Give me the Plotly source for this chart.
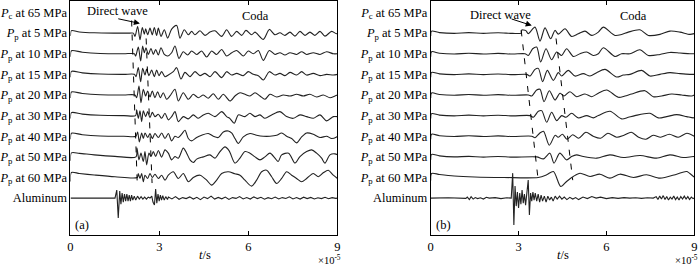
import plotly.graph_objects as go

# ---------------- labels / ticks ----------------
ROW_LABELS = [
    "<i>P</i><sub>c</sub> at 65 MPa",
    "<i>P</i><sub>p</sub> at 5 MPa",
    "<i>P</i><sub>p</sub> at 10 MPa",
    "<i>P</i><sub>p</sub> at 15 MPa",
    "<i>P</i><sub>p</sub> at 20 MPa",
    "<i>P</i><sub>p</sub> at 30 MPa",
    "<i>P</i><sub>p</sub> at 40 MPa",
    "<i>P</i><sub>p</sub> at 50 MPa",
    "<i>P</i><sub>p</sub> at 60 MPa",
    "Aluminum",
]
X_TICKS = [0, 3, 6, 9]

# ---------------- panel (a) traces: time (x1e-5 s), amplitude ----------------
A_P5_T = [0, 0.03, 0.3, 0.8, 1.5, 2.0, 2.118, 2.174, 2.264, 2.343, 2.421, 2.489, 2.534, 2.601, 2.680, 2.758,
          2.826, 2.904, 2.961, 3.051, 3.163, 3.275, 3.410, 3.579, 3.691, 3.837, 3.972, 4.084, 4.197, 4.365,
          4.534, 4.702, 4.871, 5.096, 5.264, 5.43, 5.601, 5.769, 5.915, 6.106, 6.219, 6.500, 6.702, 6.893,
          7.061, 7.230, 7.398, 7.567, 7.736, 7.904, 8.072, 8.241, 8.410, 8.578, 8.803, 8.972, 9.0]
A_P5_V = [-3, 2.5, 1.2, 0.3, 0, 0, 0, -3.3, 6.7, -6.7, 5.7, -1.0, 4.3, -1.7, 5.0, -1.7,
          5.7, -2.3, 5.0, -3.3, 3.3, -5.0, 4.0, 7.7, -5.0, 3.3, -1.7, 1.7, -1.7, 2.3,
          -2.3, 1.0, 2.3, -3.3, 3.3, -3.3, 1.7, -2.3, 2.7, -1.7, 1.0, -6.3, 3.7, -1.7,
          0.3, -2.3, 1.0, -3.0, 1.7, -2.3, 1.0, -2.3, 1.7, -3.0, 1.7, -0.7, 0]

A_P10_T = [0, 0.03, 0.4, 1.0, 1.8, 2.152, 2.197, 2.286, 2.365, 2.433, 2.489, 2.545, 2.624, 2.713, 2.792, 2.871,
           2.961, 3.051, 3.163, 3.275, 3.410, 3.522, 3.657, 3.803, 3.949, 4.084, 4.253, 4.421, 4.590, 4.758,
           4.927, 5.096, 5.264, 5.433, 5.601, 5.825, 5.994, 6.163, 6.331, 6.500, 6.702, 6.893, 7.061, 7.230,
           7.398, 7.623, 7.792, 7.960, 8.185, 8.410, 8.634, 8.859, 9.0]
A_P10_V = [-3, 3, 1.5, 0.3, 0, 0, -2.3, 6.7, -7.3, 7.7, 1.0, 6.0, -0.7, 5.3, -0.7, 4.3,
           -1.3, 6.0, -0.7, -2.3, 1.0, 7.7, -4.7, 2.0, -1.3, 2.7, -0.7, 2.7, -3.3, 2.7,
           -0.7, 4.3, -2.3, 1.0, 3.3, -2.3, 2.7, 0, 3.3, -6.7, 3.3, -0.7, 1.0, -1.3,
           1.0, -0.7, 2.0, -0.7, 1.0, -0.7, 2.0, 0, 0]

A_P15_T = [0, 0.03, 0.4, 1.0, 1.8, 2.152, 2.208, 2.286, 2.365, 2.433, 2.511, 2.567, 2.646, 2.736, 2.826, 2.904,
           2.983, 3.073, 3.185, 3.298, 3.466, 3.579, 3.725, 3.859, 4.028, 4.197, 4.365, 4.534, 4.702, 4.871,
           5.096, 5.264, 5.433, 5.601, 5.825, 5.994, 6.163, 6.331, 6.500, 6.702, 6.893, 7.061, 7.230, 7.398,
           7.623, 7.792, 7.960, 8.185, 8.410, 8.634, 8.859, 9.0]
A_P15_V = [-3, 3, 1.5, 0.3, 0, 0, -2.3, 6.7, -7.3, 6.0, -0.7, 5.3, -1.3, 4.3, -2.3, 4.3,
           -1.3, 2.7, -2.3, -0.7, 2.7, 6.7, -4.7, 2.0, -2.3, 2.7, -1.3, 1.0, -2.3, 2.7,
           -3.3, 2.7, -0.7, 1.0, -1.3, 2.7, 0, -1.3, -5.7, 2.7, -0.7, 1.0, -1.3, 2.0,
           -0.7, 2.7, -0.7, 1.0, -1.3, 0, -0.7, 0]

A_P20_T = [0, 0.03, 0.4, 1.0, 1.8, 2.174, 2.230, 2.309, 2.376, 2.455, 2.534, 2.601, 2.680, 2.758, 2.848, 2.938,
           3.028, 3.129, 3.241, 3.354, 3.522, 3.635, 3.803, 3.972, 4.140, 4.309, 4.477, 4.646, 4.815, 4.983,
           5.152, 5.376, 5.545, 5.713, 5.882, 6.050, 6.219, 6.388, 6.556, 6.724, 6.949, 7.174, 7.398, 7.623,
           7.848, 8.072, 8.297, 8.522, 8.747, 8.915, 9.0]
A_P20_V = [-3, 3, 1.5, 0.3, 0, 0, -2.7, 9.0, -7.7, 5.7, -1.0, 4.0, -2.0, 4.0, -2.7, 3.3,
           -2.7, 2.3, -4.3, -1.0, 5.7, -6.0, 2.3, -4.3, 0.7, -2.7, 0, -3.3, 1.3, -4.3,
           0.7, -6.0, -1.0, 2.3, 0.7, -1.0, 2.3, -1.0, -4.3, 0.7, -2.0, 0, -1.0, 0.7,
           -1.0, 0.7, -2.0, 0, -2.7, -1.0, 0]

A_P30_T = [0, 0.03, 0.4, 1.0, 1.8, 2.197, 2.230, 2.286, 2.343, 2.399, 2.455, 2.534, 2.601, 2.680, 2.758, 2.848,
           2.961, 3.073, 3.185, 3.298, 3.410, 3.522, 3.635, 3.803, 3.972, 4.140, 4.309, 4.477, 4.646, 4.871,
           5.096, 5.264, 5.376, 5.520, 5.657, 5.882, 6.050, 6.219, 6.388, 6.556, 6.781, 7.061, 7.286, 7.511,
           7.736, 7.960, 8.185, 8.410, 8.634, 8.859, 9.0]
A_P30_V = [-3, 3, 1.5, 0.3, 0, 0, 5.7, -2.7, 4.7, -6.0, 4.7, -1.0, 4.0, -2.0, 3.3, -1.0,
           1.3, -2.7, 2.3, -4.3, -1.0, 4.0, -6.0, -1.0, -3.3, 0.7, -2.7, 0.7, 2.3, -1.0,
           4.0, -1.0, -3.0, -7.7, 0.7, -1.0, 2.3, -1.0, 0.7, -2.7, 0.7, 4.0, -1.0, -2.7,
           0.7, -1.0, -2.7, 0.7, -5.3, -1.0, -1.0]

A_P40_T = [0, 0.03, 0.4, 1.0, 1.8, 2.208, 2.264, 2.320, 2.399, 2.455, 2.511, 2.601, 2.680, 2.758, 2.848, 2.961,
           3.073, 3.185, 3.298, 3.410, 3.522, 3.635, 3.747, 3.859, 3.972, 4.084, 4.253, 4.421, 4.646, 4.815,
           4.983, 5.152, 5.320, 5.440, 5.545, 5.657, 5.825, 6.050, 6.275, 6.500, 6.724, 6.949, 7.118, 7.286,
           7.455, 7.623, 7.792, 7.960, 8.185, 8.410, 8.634, 8.803, 8.972, 9.0]
A_P40_V = [-3, 3, 1.5, 0.3, 0, 0, 4.3, -5.7, 3.3, -2.3, 3.3, -1.3, 2.7, -2.3, 2.7, -1.3,
           3.3, -2.3, 2.7, -4.7, 0, -1.3, 2.0, 6.0, -2.3, -4.7, -1.3, 1.0, 2.7, 0,
           -1.3, 4.3, 5.3, 3.0, -2.3, -7.3, -0.7, 2.7, 1.0, 0, 0, 1.0, 3.3, 0,
           -2.3, -6.7, -0.7, 3.3, 2.0, -1.3, 0, -2.3, -0.7, 0]

A_P50_T = [0, 0.03, 0.3, 0.8, 1.5, 2.208, 2.241, 2.309, 2.376, 2.455, 2.511, 2.567, 2.646, 2.713, 2.792, 2.871,
           2.961, 3.073, 3.185, 3.298, 3.410, 3.522, 3.635, 3.803, 3.916, 4.028, 4.140, 4.253, 4.477, 4.702,
           4.871, 5.039, 5.208, 5.350, 5.545, 5.713, 5.882, 6.050, 6.219, 6.388, 6.556, 6.724, 6.893, 7.000,
           7.118, 7.354, 7.567, 7.736, 7.960, 8.129, 8.297, 8.466, 8.578, 8.747, 8.915, 9.0]
A_P50_V = [-4, 4, 3.5, 2, 0.5, 0, 8.7, -3.0, 3.7, -4.7, 5.3, -8.0, 3.7, 0.3, 5.3, 0.3,
           6.3, -0.3, 7.0, 3.7, -3.0, 0.3, -1.3, 8.7, 3.7, -3.0, -5.7, -2.3, 0, 2.0,
           -1.3, 5.3, 10.0, 6.0, -6.3, -1.3, 5.3, 3.7, 0, -3.0, 0, 3.7, -1.3, -4.7,
           2.0, 3.7, -6.3, 0.3, 5.3, 7.0, 3.7, -1.3, -6.3, 2.0, 3.0, 2.0]

A_P60_T = [0, 0.03, 0.3, 0.8, 1.5, 2.253, 2.286, 2.343, 2.399, 2.455, 2.511, 2.601, 2.680, 2.758, 2.848, 2.961,
           3.073, 3.185, 3.298, 3.466, 3.635, 3.803, 3.972, 4.140, 4.365, 4.590, 4.758, 4.927, 5.096, 5.320,
           5.545, 5.713, 5.882, 6.106, 6.275, 6.444, 6.612, 6.781, 6.949, 7.118, 7.286, 7.455, 7.623, 7.792,
           7.960, 8.185, 8.353, 8.522, 8.690, 8.859, 9.0]
A_P60_V = [-4, 5, 4, 2.5, 0.7, 0, 4.0, -1.0, 4.0, -4.3, 2.3, -1.0, 4.0, 0, 3.3, -1.0,
           2.3, -2.7, 2.3, 5.7, -1.0, 4.0, -4.3, 0, 2.3, -2.7, -7.7, -2.7, 4.0, 5.7,
           3.7, 2.3, -2.7, -8.7, -2.7, 5.7, 7.3, 0.7, -6.0, -1.0, 5.7, 2.3, -1.0, -4.3,
           -1.0, 4.0, 0.7, 4.7, 7.3, 2.3, -1.0]

A_AL_T = [0, 0.5, 1.0, 1.50, 1.56, 1.61, 1.66, 1.70, 1.74, 1.78, 1.82, 1.86, 1.90, 1.94, 1.98, 2.02, 2.06,
          2.10, 2.15, 2.20, 2.26, 2.32, 2.38, 2.44, 2.50, 2.56, 2.62, 2.68, 2.74, 2.78, 2.83, 2.87, 2.91,
          2.95, 2.99, 3.03, 3.07, 3.11, 3.16, 3.21, 3.27, 3.30, 3.42, 3.54, 3.66, 3.78, 3.90, 4.02, 4.14,
          4.26, 4.38, 4.50, 4.62, 4.74, 4.86, 4.98, 5.10, 5.22, 5.34, 5.46, 5.58, 5.70, 5.82, 5.94, 6.06,
          6.18, 6.30, 6.42, 6.54, 6.66, 6.78, 6.90, 7.02, 7.14, 7.26, 7.38, 7.50, 7.62, 7.74, 7.86, 7.98,
          8.10, 8.22, 8.34, 8.46, 8.58, 8.70, 8.82, 8.94, 9.0]
A_AL_V = [0, 0.2, -0.2, 0, 8, -20, 7, -6, 5, -4, 4, -3, 4, -3, 3, -3, 3,
          -2, 2, -2, 2, -1, 1.5, -1, 1, -1, 1, 0, 2, -4, -7, 9, -5,
          4, -3, 3, -2, 2.5, -2, 1.5, -1.5, 1.0, -0.8, 1.5, -1.2, 0.5, -0.5, 1.2, -1.0,
          0.8, -1.5, 1.0, -0.5, 2.0, -1.0, 0.7, -0.7, 1.0, -1.3, 0.5, -0.3, 1.5, -0.8, 0.6, -1.0,
          1.2, -0.5, 0.8, -1.1, 0.4, -0.6, 1.0, -0.9, 0.5, -0.4, 1.3, -0.8, 0.6, -1.0, 0.9, -0.5,
          0.7, -0.9, 0.3, -0.5, 0.8, -0.6, 0.5, -0.3, 0]

# ---------------- panel (b) traces ----------------
B_P5_T = [0, 0.03, 0.3, 0.8, 1.3, 1.8, 2.3, 2.8, 3.09, 3.10, 3.25, 3.33, 3.561, 3.732, 3.903, 4.096, 4.244,
          4.358, 4.586, 4.813, 5.041, 5.268, 5.496, 5.724, 5.894, 6.293, 6.520, 6.748, 7.146, 7.431, 7.829,
          8.170, 8.512, 8.853, 9.0]
B_P5_V = [-3, 2, 0.5, -0.3, 0.5, -0.3, 0.4, -0.3, 0, 3, 2.5, -0.5, 6.0, -8.0, 5.3, -5.7, 2.7,
          -1.0, 4.3, -3.3, -0.7, 2.0, -2.3, 1.0, 6.0, -2.3, -1.3, 1.0, 3.3, -2.3, -1.3,
          2.0, 1.0, -1.3, -0.5]

B_P10_T = [0, 0.03, 0.3, 0.8, 1.3, 1.8, 2.3, 2.8, 3.22, 3.334, 3.482, 3.618, 3.755, 3.937, 4.130, 4.301,
           4.472, 4.642, 4.870, 5.098, 5.325, 5.553, 5.724, 5.894, 6.293, 6.520, 6.805, 7.146, 7.431, 7.829,
           8.170, 8.512, 8.853, 9.0]
B_P10_V = [-3, 2, 0.5, -0.3, 0.5, -0.3, 0.4, -0.3, 0, -1.7, 5.0, 6.7, -8.3, 5.0, -6.0, 1.7,
           -1.7, 5.0, -2.7, 0, 1.7, -1.7, 0, 6.0, -2.7, 0, 0, 4.0, -1.7, -0.7,
           1.3, 0.7, 0, 0]

B_P15_T = [0, 0.03, 0.3, 0.8, 1.3, 1.8, 2.3, 2.8, 3.277, 3.391, 3.561, 3.675, 3.823, 3.982, 4.187, 4.358,
           4.472, 4.699, 4.927, 5.211, 5.439, 5.667, 5.951, 6.349, 6.577, 6.805, 7.203, 7.487, 7.829, 8.170,
           8.512, 8.853, 9.0]
B_P15_V = [-3, 2, 0.5, -0.3, 0.5, -0.3, 0.4, -0.3, 0, -1.7, 5.0, 6.0, -7.3, 4.0, -6.0, 1.7,
           -1.7, 4.0, -1.7, 0.7, -1.7, 1.7, 5.0, -2.7, -0.7, 0, 4.0, -1.7, 0, 1.7,
           0.7, 0, 0]

B_P20_T = [0, 0.03, 0.3, 0.8, 1.3, 1.8, 2.3, 2.8, 3.334, 3.448, 3.618, 3.732, 3.869, 4.051, 4.244, 4.415,
           4.551, 4.756, 4.984, 5.268, 5.496, 5.724, 6.008, 6.406, 6.634, 6.862, 7.317, 7.601, 7.886, 8.227,
           8.569, 8.910, 9.0]
B_P20_V = [-3, 2, 0.5, -0.3, 0.5, -0.3, 0.4, -0.3, 0, -1.0, 5.0, 5.7, -6.7, 4.3, -5.0, 1.7,
           -1.0, 3.3, -1.7, 1.0, -1.7, 1.7, 5.0, -2.3, -1.0, 1.0, 4.3, -1.7, -1.0, 1.0,
           0, -1.0, 0]

B_P30_T = [0, 0.03, 0.3, 0.8, 1.3, 1.8, 2.3, 2.8, 3.391, 3.504, 3.675, 3.789, 3.960, 4.130, 4.301, 4.472,
           4.620, 4.813, 5.041, 5.325, 5.553, 5.724, 6.122, 6.520, 6.748, 6.975, 7.487, 7.772, 8.056, 8.398,
           8.739, 8.967, 9.0]
B_P30_V = [-3, 2, 0.5, -0.3, 0.5, -0.3, 0.4, -0.3, 0, -1.7, 4.3, 5.0, -6.7, 3.3, -5.0, 0,
           -1.7, 2.3, -2.3, 0, -2.3, 0, 4.3, -3.3, -1.7, 0, 2.3, -2.3, -1.0, 1.0,
           -1.0, -2.3, -2.0]

B_P40_T = [0, 0.03, 0.3, 0.8, 1.3, 1.8, 2.3, 2.8, 3.45, 3.56, 3.72, 3.85, 4.05, 4.25, 4.35, 4.50, 4.65,
           4.85, 5.05, 5.30, 5.55, 5.80, 6.05, 6.35, 6.60, 6.85, 7.10, 7.35, 7.60, 7.85, 8.15, 8.45, 8.75, 9.0]
B_P40_V = [-3, 2, 0.5, -0.3, 0.5, -0.3, 0.4, -0.3, 0, -1.5, 3, 5, -9, 1, -1, 2, -3,
           1.5, -2, 4, 0, -2, 3, -1, 1, 4, -1, -3, 1, -1, 2, -1, 3, 0]

B_P50_T = [0, 0.03, 0.3, 0.8, 1.3, 1.8, 2.3, 2.8, 3.62, 3.85, 4.07, 4.21, 4.41, 4.64, 4.81, 4.98, 5.21,
           5.67, 6.12, 6.58, 7.15, 7.71, 8.17, 8.62, 8.97, 9.0]
B_P50_V = [-3, 2.5, 1.0, 0, 0.5, -0.3, 0.4, -0.3, 0, -2, 3.7, -6.3, 3.7, -3, 0.3, 2, 0.3,
           -1.3, 2, -0.7, 1.3, -1.3, 2, -0.7, 0.3, 0]

B_P60_T = [0, 0.03, 0.3, 0.8, 1.5, 2.5, 3.67, 3.96, 4.19, 4.44, 4.64, 4.87, 5.10, 5.44, 5.78, 6.12, 6.46,
           6.92, 7.37, 7.83, 8.40, 8.74, 8.97, 9.0]
B_P60_V = [-3, 4, 3, 1.5, 0.5, 0, 0, 2.7, 6, -9, -4, 1, 4.3, 1, 3.3, -0.7, 3.3,
           0, 2.7, -0.7, 3.3, 6, 1, 0.5]

B_AL_T = [0, 0.6, 1.2, 1.25, 1.32, 1.38, 1.45, 1.52, 1.60, 1.70, 1.80, 1.90, 2.00, 2.20, 2.40, 2.60, 2.75,
          2.80, 2.84, 2.88, 2.92, 2.96, 3.00, 3.04, 3.08, 3.12, 3.16, 3.20, 3.24, 3.28, 3.33, 3.37, 3.41,
          3.45, 3.49, 3.53, 3.57, 3.62, 3.67, 3.72, 3.77, 3.82, 3.88, 3.94, 4.00, 4.06, 4.12, 4.18, 4.25,
          4.32, 4.40, 4.48, 4.56, 4.65, 4.75, 4.85, 4.95, 5.05, 5.20, 5.35, 5.50, 5.65, 5.80, 6.00, 6.20,
          6.40, 6.60, 6.80, 7.00, 7.20, 7.40, 7.60, 7.70, 7.76, 7.82, 7.88, 7.94, 8.00, 8.06, 8.12, 8.18,
          8.24, 8.30, 8.36, 8.42, 8.48, 8.54, 8.60, 8.66, 8.72, 8.78, 8.84, 8.90, 8.96, 9.0]
B_AL_V = [0, 0.4, -0.3, 1, -1.5, 1.5, -1, 0.5, -0.5, 0.3, -1, 0.8, 0, 0.5, -0.5, 0.3, 0,
          25, -27, 12, -8, 6, -10, 5, -6, 8, -5, 4, -7, 6, 18, -17, 5,
          -3, 6, -2, 5, -3, 4, -4, 3, -3, 2, -4, 2, -2, 1, -3, 2,
          -1, 2, -1, 1, -1.5, 0.8, -1, 0.5, -1.5, 1, -0.5, 1.5, 0, 1, -0.5, 0.5,
          -0.3, 0.5, 0, 0.3, -0.3, 0.3, 0, 1.5, -1.5, 2, -1, 2.5, -1.5, 1.5, -2, 1,
          -1, 2, -1.5, 1, -2, 1.5, -1, 2, -1, 1.5, -1.5, 1, -0.5, 0]

# dashed guide lines: (time, row position) endpoints
A_DASH1 = ([2.06, 2.25], [-0.39, -8.27])
A_DASH2 = ([2.55, 2.75], [-1.26, -8.27])
B_DASH1 = ([3.09, 3.67], [-0.87, -8.13])
B_DASH2 = ([4.28, 4.85], [-1.26, -8.13])

GAIN = 1 / 20.67
FONT = "Liberation Serif, Times New Roman, serif"
FS = 12.5
INK = "#222222"

panel_a = [(1, A_P5_T, A_P5_V), (2, A_P10_T, A_P10_V), (3, A_P15_T, A_P15_V), (4, A_P20_T, A_P20_V),
           (5, A_P30_T, A_P30_V), (6, A_P40_T, A_P40_V), (7, A_P50_T, A_P50_V), (8, A_P60_T, A_P60_V),
           (9, A_AL_T, A_AL_V)]
panel_b = [(1, B_P5_T, B_P5_V), (2, B_P10_T, B_P10_V), (3, B_P15_T, B_P15_V), (4, B_P20_T, B_P20_V),
           (5, B_P30_T, B_P30_V), (6, B_P40_T, B_P40_V), (7, B_P50_T, B_P50_V), (8, B_P60_T, B_P60_V),
           (9, B_AL_T, B_AL_V)]

fig = go.Figure()
for xa, ya, panel in (("x", "y", panel_a), ("x2", "y2", panel_b)):
    for row, t, v in panel:
        shape = "linear" if row == 9 else "spline"
        fig.add_trace(go.Scatter(
            x=t, y=[-row + GAIN * a for a in v], xaxis=xa, yaxis=ya, mode="lines",
            line=dict(color=INK, width=1.1, shape=shape, smoothing=0.8 if shape == "spline" else None),
            showlegend=False, hoverinfo="skip"))

for xa, ya, dash in (("x", "y", A_DASH1), ("x", "y", A_DASH2), ("x2", "y2", B_DASH1), ("x2", "y2", B_DASH2)):
    fig.add_trace(go.Scatter(x=dash[0], y=dash[1], xaxis=xa, yaxis=ya, mode="lines",
                             line=dict(color="black", width=1, dash="6px,8px"),
                             showlegend=False, hoverinfo="skip"))

YR = [-10.79, 0.58]
common_x = dict(range=[0, 9], tickvals=X_TICKS, ticktext=[str(v) for v in X_TICKS], ticks="inside",
                ticklen=4, tickcolor="black", showline=True, linecolor="black", linewidth=1, mirror="ticks",
                showgrid=False, zeroline=False, automargin=False,
                tickfont=dict(family=FONT, size=FS, color="black"))
common_y = dict(range=YR, tickvals=list(range(0, -10, -1)), ticktext=ROW_LABELS, ticks="", showline=True,
                linecolor="black", linewidth=1, mirror=True, showgrid=False, zeroline=False, automargin=False,
                tickfont=dict(family=FONT, size=FS, color="black"))

fig.update_layout(
    width=700, height=266, margin=dict(l=0, r=0, t=0, b=0, autoexpand=False),
    paper_bgcolor="white", plot_bgcolor="white",
    xaxis=dict(domain=[0.1007, 0.4821], anchor="y", **common_x),
    yaxis=dict(domain=[0.1165, 0.998], anchor="x", **common_y),
    xaxis2=dict(domain=[0.6153, 0.9918], anchor="y2", **common_x),
    yaxis2=dict(domain=[0.1165, 0.998], anchor="x2", **common_y),
    font=dict(family=FONT, size=FS, color="black"),
)

ann = []
for xr, yr, tx, dwx, arrow in (("x", "y", 1.6, 0.05, ((1.56, -0.29), (2.34, -0.53))),
                               ("x2", "y2", 2.37, -0.10, ((2.71, -0.29), (3.45, -0.63)))):
    ann.append(dict(x=tx, y=dwx, xref=xr, yref=yr, text="Direct wave", showarrow=False,
                    font=dict(family=FONT, size=FS)))
    ann.append(dict(x=arrow[1][0], y=arrow[1][1], ax=arrow[0][0], ay=arrow[0][1], xref=xr, yref=yr,
                    axref=xr, ayref=yr, text="", showarrow=True, arrowhead=2, arrowsize=1.2,
                    arrowwidth=1, arrowcolor="black"))
ann.append(dict(x=6.25, y=-0.15, xref="x", yref="y", text="Coda", showarrow=False, font=dict(family=FONT, size=FS)))
ann.append(dict(x=6.91, y=-0.15, xref="x2", yref="y2", text="Coda", showarrow=False, font=dict(family=FONT, size=FS)))
ann.append(dict(x=0.39, y=-10.3, xref="x", yref="y", text="(a)", showarrow=False, font=dict(family=FONT, size=FS)))
ann.append(dict(x=0.42, y=-10.3, xref="x2", yref="y2", text="(b)", showarrow=False, font=dict(family=FONT, size=FS)))
for xr in ("x", "x2"):
    ann.append(dict(x=4.52, y=0.042, xref=xr, yref="paper", text="<i>t</i>/s", showarrow=False,
                    xanchor="center", yanchor="middle", font=dict(family=FONT, size=FS)))
    ann.append(dict(x=8.74, y=0.025, xref=xr, yref="paper", text="×10<sup>-5</sup>", showarrow=False,
                    xanchor="center", yanchor="middle", font=dict(family=FONT, size=10.5)))
fig.update_layout(annotations=ann)

fig.write_html("out.html", config={"displayModeBar": False, "staticPlot": True},
               post_script="document.body.style.margin='0';document.body.style.overflow='hidden';")
